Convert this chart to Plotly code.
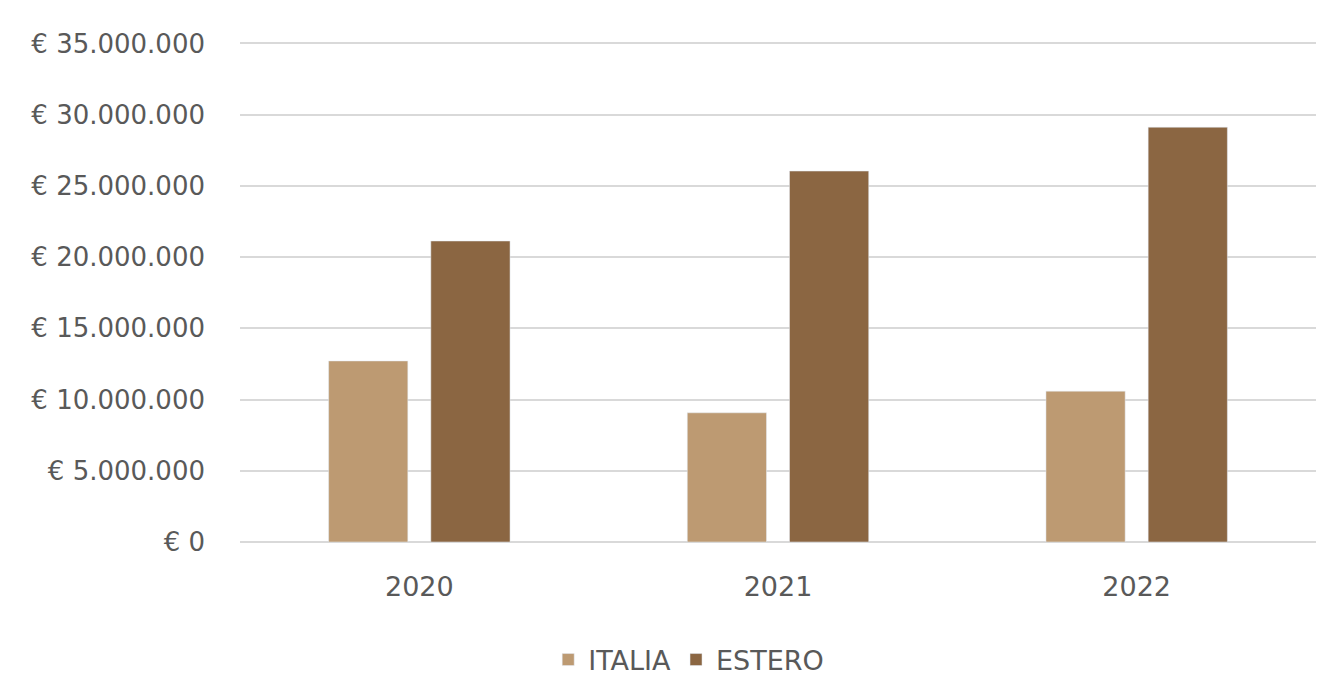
import plotly.graph_objects as go

years = ["2020", "2021", "2022"]
italia = [12710000, 9070000, 10590000]
estero = [21130000, 26040000, 29120000]
tick_vals = [0, 5e6, 10e6, 15e6, 20e6, 25e6, 30e6, 35e6]
tick_text = ["€ 0", "€ 5.000.000", "€ 10.000.000", "€ 15.000.000", "€ 20.000.000",
             "€ 25.000.000", "€ 30.000.000", "€ 35.000.000"]

fig = go.Figure()
fig.add_trace(go.Bar(name="ITALIA", x=years, y=italia, marker_color="#BD9A72"))
fig.add_trace(go.Bar(name="ESTERO", x=years, y=estero, marker_color="#8B6642"))

fig.update_layout(
    width=1342, height=686,
    margin=dict(l=232, r=34, t=34, b=152, autoexpand=False),
    paper_bgcolor="white", plot_bgcolor="white",
    font=dict(family="DejaVu Sans, sans-serif", size=26, color="#595959"),
    barmode="group", bargap=0.43, bargroupgap=0.225,
    showlegend=True,
    legend=dict(orientation="h", x=0.417, xanchor="center", y=-0.236, yanchor="middle",
                font=dict(size=27, color="#595959"), itemwidth=30, traceorder="normal",
                tracegroupgap=10),
    xaxis=dict(showgrid=False, showline=False, ticks="", tickfont=dict(size=27),
               ticklabelstandoff=26, automargin=False),
    yaxis=dict(range=[0, 35.1e6], tickvals=tick_vals, ticktext=tick_text,
               showgrid=True, gridcolor="#D9D9D9", gridwidth=2,
               zeroline=True, zerolinecolor="#D9D9D9", zerolinewidth=2,
               ticks="", ticklabelstandoff=34, tickfont=dict(size=26), automargin=False),
)

fig.write_html("out.html")
